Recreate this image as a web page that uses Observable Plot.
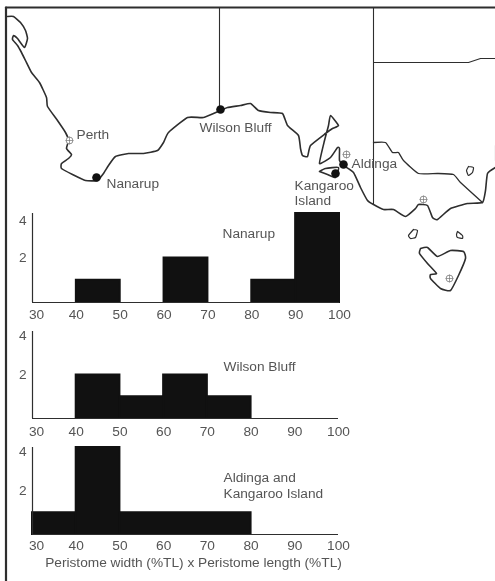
<!DOCTYPE html>
<html><head><meta charset="utf-8">
<script src="https://cdn.jsdelivr.net/npm/d3@7"></script>
<script src="https://cdn.jsdelivr.net/npm/@observablehq/plot@0.6"></script>
<style>
html,body{margin:0;padding:0;background:#fff}
#chart{position:relative;width:495px;height:581px;overflow:hidden;filter:blur(0.4px)}
#chart svg{position:absolute;left:0;background:transparent;overflow:visible}
</style></head><body><div id="chart"></div>
<script>
// Map outlines, in map units
const coastMain = [[7,16],[13,16],[20,22],[25,30],[27,38],[24,47],[17,38],[13,35],[12,39],[17,45],[21,52],[25,60],[31,72],[39,82],[46,97],[47,106],[57,120],[65,132],[68,140],[66,148],[71,154],[68,158],[61,163],[61,168],[72,174],[85,180],[97,180],[103,173],[108,165],[115,156],[128,153],[143,153],[157,150],[163,142],[168,132],[187,117],[203,117],[220,110],[227,107],[240,105],[250,103],[258,110],[270,112],[282,113],[287,125],[298,135],[300,148],[302,155],[307,156],[310,145],[325,133],[332,128],[338,125],[330,115],[328,125],[324,140],[319,163],[330,157],[337,147],[339,148],[339,160],[343,165],[353,172],[360,187],[367,200],[373,204],[383,209],[393,209],[405,216],[415,208],[418,204],[427,205],[432,217],[437,219],[450,208],[467,203],[482,202],[485,190],[487,173],[495,167]];
const kangarooIsland = [[319,171],[325,168],[338,167],[335,177],[327,174],[319,171]];
const murrayBorder = [[373,142],[385,142],[392,152],[398,152],[403,160],[418,173],[437,173],[453,174],[460,182],[482,202]];
const eastCoast = [[495,145],[495,160]];
const nswBorder = [[373,62],[468,62],[480,58],[495,58]];
const saBorder = [[373,7],[373,204]];
const waBorder = [[219,7],[219,108]];
const lakeIsland = [[468,166],[473,167],[472,172],[468,175],[466,170],[468,166]];
const kingIsland = [[413,229],[417,230],[415,237],[410,238],[408,235],[413,229]];
const flindersIsland = [[457,231],[462,235],[462,238],[457,237],[456,234],[457,231]];
const tasmania = [[420,248],[427,247],[437,256],[450,250],[463,251],[465,258],[458,275],[450,290],[440,288],[430,278],[430,274],[436,273],[427,263],[419,253],[420,248]];
const cities = [[69,140],[346,154],[423,199],[449,278]];
const sites = [[96,177],[220,109],[343,164],[335,173]];
const mapLabels = [
  ["Perth",76,134],["Nanarup",106,183],["Wilson Bluff",199,127],["Aldinga",351,163],["Kangaroo",294,185],["Island",294,200],
  ["Nanarup",222,233],["Wilson Bluff",223,366],["Aldinga and",223,477],["Kangaroo Island",223,493]
];
// Histogram bins: [from, to, count]
const nanarup = [[40,50,1],[60,70,2],[80,90,1],[90,100,4]];
const wilsonBluff = [[40,50,2],[50,60,1],[60,70,2],[70,80,1]];
const aldingaKangaroo = [[30,40,1],[40,50,4],[50,80,1]];
const xTicks = [30,40,50,60,70,80,90,100];
const xTitle = "Peristome width (%TL) x Peristome length (%TL)";

const ink = "#2e2e2e", textInk = "#555", font = "Liberation Sans, Arial, sans-serif", fs = 13.7;
const outline = (pts, w=1.6) => Plot.line(pts, {x:d=>d[0], y:d=>d[1], stroke:ink, strokeWidth:w, strokeLinejoin:"round", curve:"cardinal", tension:0.55});
const straight = (pts, w=1.1) => Plot.line(pts, {x:d=>d[0], y:d=>d[1], stroke:ink, strokeWidth:w});

const map = Plot.plot({
  width:495, height:581, margin:0,
  style:{background:"transparent", fontFamily:font},
  x:{domain:[0,495], range:[0,495], axis:null},
  y:{domain:[0,581], range:[0,581], axis:null},
  marks:[
    straight([[5.5,7],[5.5,581]],2.2),
    straight([[5.5,7],[495,7]],2.2),
    straight(waBorder), straight(saBorder), straight(nswBorder), straight(eastCoast),
    outline(murrayBorder,1.3), outline(coastMain), outline(kangarooIsland),
    outline(lakeIsland,1.2), outline(kingIsland,1.2), outline(flindersIsland,1.2), outline(tasmania),
    Plot.dot(cities,{x:d=>d[0],y:d=>d[1],r:3.4,stroke:"#777",strokeWidth:0.8,fill:"#fff"}),
    Plot.dot(cities,{x:d=>d[0],y:d=>d[1],symbol:"plus",r:2.6,stroke:"#777",strokeWidth:0.7}),
    Plot.dot(sites,{x:d=>d[0],y:d=>d[1],r:4.3,fill:"#111"}),
    Plot.text(mapLabels,{x:d=>d[1],y:d=>d[2],text:d=>d[0],textAnchor:"start",fontSize:fs,fill:textInk})
  ]
});
map.style.top="0px";
document.getElementById("chart").append(map);

function hist(data, o){
  const p = Plot.plot({
    width:o.right+20, height:o.height, marginTop:o.marginTop, marginBottom:o.height-o.marginTop-(o.base-o.top),
    marginLeft:32, marginRight:20,
    style:{background:"transparent", fontFamily:font, fontSize:fs+"px", color:textInk},
    x:{domain:[30,100], range:[32,o.right], axis:null},
    y:{domain:[0,4], axis:null},
    marks:[
      Plot.rectY(data,{x1:d=>d[0],x2:d=>d[1],y:d=>d[2],fill:"#111",stroke:"#111",strokeWidth:2,strokeLinejoin:"miter"}),
      Plot.ruleX([30],{stroke:ink,strokeWidth:1.2}),
      Plot.ruleY([0],{stroke:ink,strokeWidth:1.2}),
      Plot.axisX({ticks:xTicks.slice(1),tickSize:0,tickPadding:o.pad,label:null,tickFormat:String,fontSize:fs,fill:textInk}),
      Plot.axisX({ticks:[30],tickSize:0,tickPadding:o.pad,label:null,tickFormat:String,dx:4,fontSize:fs,fill:textInk}),
      Plot.axisY({ticks:[2],tickSize:0,tickPadding:6,label:null,tickFormat:String,fontSize:fs,fill:textInk}),
      Plot.axisY({ticks:[4],tickSize:0,tickPadding:6,label:null,tickFormat:String,dy:o.dy4,fontSize:fs,fill:textInk}),
      ...(o.title?[Plot.text([o.title],{frameAnchor:"bottom",dy:32,dx:8,text:d=>d,fontSize:fs,fill:textInk})]:[])
    ]
  });
  p.style.top=(o.top-o.marginTop)+"px";
  document.getElementById("chart").append(p);
}
hist(nanarup,{top:213,base:302,right:339,height:125,marginTop:8,pad:7,dy4:7});
hist(wilsonBluff,{top:331,base:418,right:338,height:115,marginTop:8,pad:8,dy4:4});
hist(aldingaKangaroo,{top:447,base:534,right:338,height:130,marginTop:8,pad:6,dy4:4,title:xTitle});
</script></body></html>
